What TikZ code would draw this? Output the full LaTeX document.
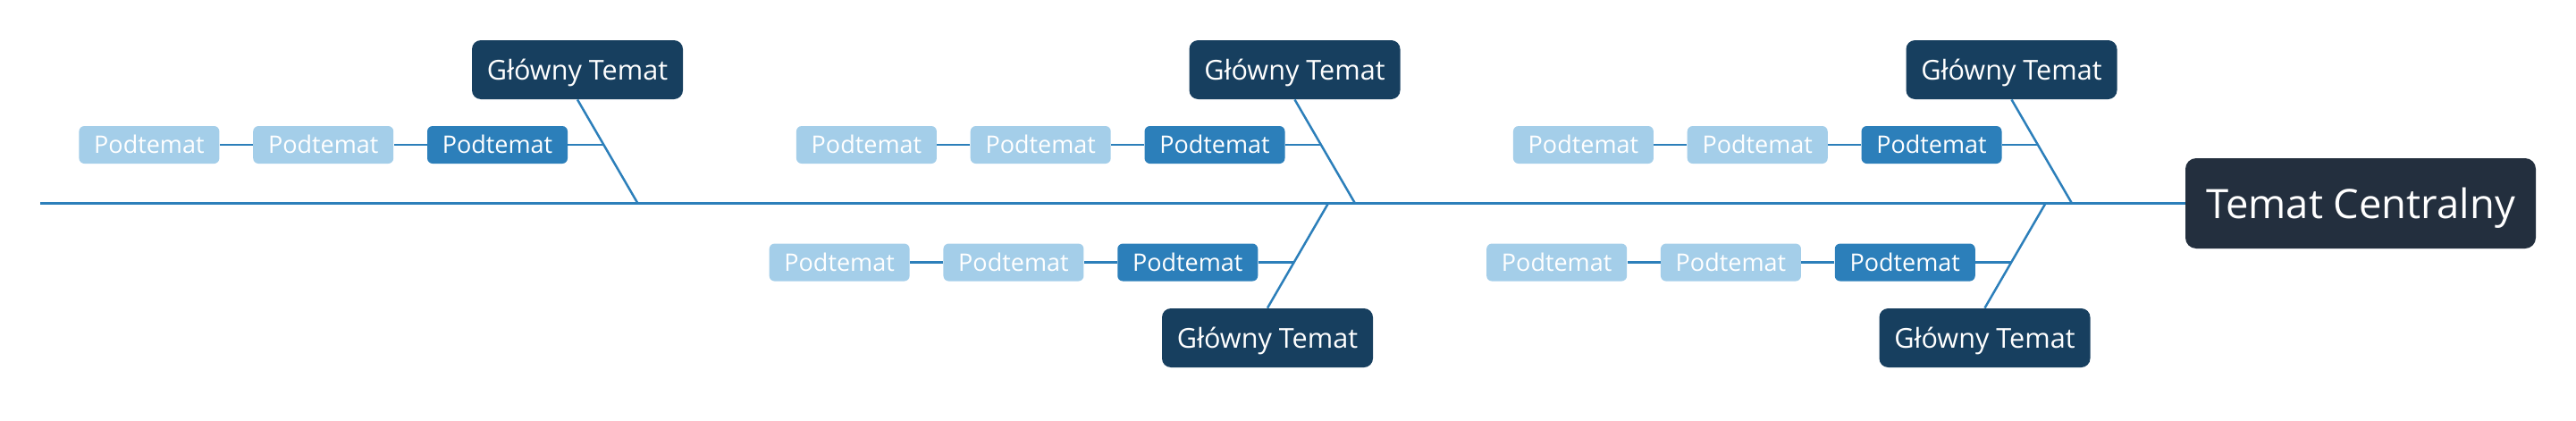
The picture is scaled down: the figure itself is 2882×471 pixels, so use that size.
\documentclass[tikz,border=0pt]{standalone}
\usepackage{fontspec}
\setmainfont{Open Sans}
\usetikzlibrary{positioning,calc}
\definecolor{fishline}{HTML}{2C7FBA}
\definecolor{subdark}{HTML}{2C7FBA}
\definecolor{sublight}{HTML}{A4CEE9}
\definecolor{mainnavy}{HTML}{173F5F}
\definecolor{centralink}{HTML}{232F3E}

\begin{document}
\begin{tikzpicture}[
  x=0.5pt,
  y=-0.5pt,
  line join=round,
  bone/.style={draw=fishline,line width=1.5pt},
  rib/.style={draw=fishline,line width=1.25pt},
  central/.style={fill=centralink,text=white,rounded corners=6pt,minimum width=196pt,minimum height=50.5pt,inner sep=0pt,text height=21.6pt,text depth=4.5pt,font=\fontsize{22.7}{26}\selectfont},
  maintopic/.style={fill=mainnavy,text=white,rounded corners=5pt,minimum width=118pt,minimum height=33pt,inner sep=0pt,text height=14.2pt,text depth=3.1pt,font=\fontsize{15.3}{18}\selectfont},
  subtopic/.style={fill=subdark,text=white,rounded corners=3pt,minimum width=78.5pt,minimum height=21pt,inner sep=0pt,text height=12.2pt,text depth=2.7pt,font=\fontsize{13.5}{16}\selectfont},
  subfaint/.style={subtopic,fill=sublight}
]
  \useasboundingbox (0,0) rectangle (2882,471);

  % Head of the fish and its backbone.
  \node[central] (head) at (2641,227.5) {Temat Centralny};
  \coordinate (tail) at (45,227.5);
  \draw[bone] (tail) -- (head.west);

  % Upper bones: main topic above, ribs leaving to the left.
  \foreach \gx/\nm in {646/t1,1448.5/t2,2250.5/t3} {
    \node[maintopic] (\nm) at (\gx,78) {Główny Temat};
    \coordinate (\nm-s) at (\gx+67.5,227.5);
    \draw[rib] (\nm.south) -- (\nm-s);
    \coordinate (\nm-j) at ($(\nm.south)!0.436!(\nm-s)$);
    \node[subtopic,left=20pt of \nm-j] (\nm-a) {Podtemat};
    \node[subfaint,left=18.5pt of \nm-a] (\nm-b) {Podtemat};
    \node[subfaint,left=18.5pt of \nm-b] (\nm-c) {Podtemat};
    \draw[rib] (\nm-j) -- (\nm-a) -- (\nm-b) -- (\nm-c);
  }

  % Lower bones, mirrored below the backbone.
  \foreach \gx/\nm in {1418/b2,2220.5/b3} {
    \node[maintopic] (\nm) at (\gx,378) {Główny Temat};
    \coordinate (\nm-s) at (\gx+68,227.5);
    \draw[rib] (\nm-s) -- (\nm.north);
    \coordinate (\nm-j) at ($(\nm.north)!0.436!(\nm-s)$);
    \node[subtopic,left=20pt of \nm-j] (\nm-a) {Podtemat};
    \node[subfaint,left=18.5pt of \nm-a] (\nm-b) {Podtemat};
    \node[subfaint,left=18.5pt of \nm-b] (\nm-c) {Podtemat};
    \draw[rib] (\nm-j) -- (\nm-a) -- (\nm-b) -- (\nm-c);
  }
\end{tikzpicture}
\end{document}
